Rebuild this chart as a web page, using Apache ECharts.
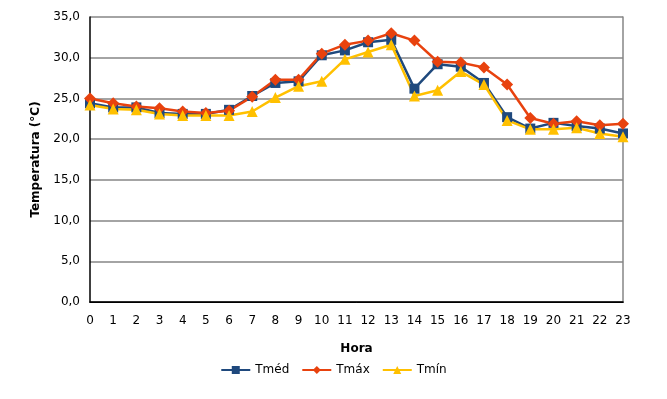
<!DOCTYPE html>
<html>
<head>
<meta charset="utf-8">
<script src="https://cdn.jsdelivr.net/npm/echarts@6/dist/echarts.min.js"></script>
<style>
html, body { margin: 0; padding: 0; background: #fff; }
#main { width: 667px; height: 399px; }
</style>
</head>
<body>
<div id="main"></div>
<script>
var horas = ['0','1','2','3','4','5','6','7','8','9','10','11','12','13','14','15','16','17','18','19','20','21','22','23'];
var tMed = [24.4, 23.9, 23.9, 23.2, 23.1, 23.1, 23.6, 25.3, 26.9, 27.1, 30.3, 30.9, 31.9, 32.2, 26.2, 29.2, 28.9, 26.9, 22.7, 21.3, 22.0, 21.6, 21.3, 20.7];
var tMax = [25.0, 24.4, 24.0, 23.8, 23.4, 23.2, 23.5, 25.2, 27.3, 27.3, 30.5, 31.6, 32.1, 33.0, 32.1, 29.5, 29.4, 28.8, 26.7, 22.6, 21.9, 22.2, 21.7, 21.9];
var tMin = [24.2, 23.7, 23.6, 23.1, 22.9, 22.9, 22.9, 23.4, 25.1, 26.5, 27.1, 29.8, 30.7, 31.6, 25.3, 26.0, 28.3, 26.7, 22.3, 21.2, 21.2, 21.4, 20.7, 20.3];

var myChart = echarts.init(document.getElementById('main'));

var font = 'DejaVu Sans';
var fmt = function (v) { return v.toFixed(1).replace('.', ','); };

var option = {
    backgroundColor: '#fff',
    animation: false,
    textStyle: { fontFamily: font },
    grid: { left: 90, right: 44, top: 17, bottom: 97 },
    legend: {
        top: 359,
        left: 'center',
        itemWidth: 29,
        itemHeight: 10,
        itemGap: 12,
        textStyle: { color: '#000', fontSize: 12, fontFamily: font },
        data: ['Tméd', 'Tmáx', 'Tmín']
    },
    xAxis: [{
        type: 'category',
        data: horas,
        boundaryGap: false,
        name: 'Hora',
        nameLocation: 'middle',
        nameGap: 41,
        nameTextStyle: { fontWeight: 'bold', fontSize: 12, color: '#000', fontFamily: font },
        axisLine: { lineStyle: { color: '#000', width: 1 } },
        axisTick: { show: false },
        axisLabel: { color: '#000', fontSize: 12, margin: 13, fontFamily: font }
    }, {
        type: 'category',
        data: horas,
        boundaryGap: false,
        position: 'top',
        axisLine: { lineStyle: { color: '#000', width: 1.5 } },
        axisTick: { show: false },
        axisLabel: { show: false }
    }],
    yAxis: [{
        type: 'value',
        min: 0,
        max: 35,
        interval: 5,
        name: 'Temperatura (°C)',
        nameLocation: 'middle',
        nameGap: 48,
        nameTextStyle: { fontWeight: 'bold', fontSize: 12, color: '#000', fontFamily: font },
        axisLine: { show: true, lineStyle: { color: '#000', width: 1.5 } },
        axisTick: { show: false },
        axisLabel: { color: '#000', fontSize: 12, margin: 10, formatter: fmt, fontFamily: font },
        splitLine: { lineStyle: { color: '#868686', width: 1.5 } }
    }, {
        type: 'value',
        min: 0,
        max: 35,
        interval: 5,
        position: 'right',
        axisLine: { show: true, lineStyle: { color: '#868686', width: 1.5 } },
        axisTick: { show: false },
        axisLabel: { show: false },
        splitLine: { show: false }
    }],
    series: [{
        name: 'Tméd',
        type: 'line',
        data: tMed,
        symbol: 'rect',
        symbolSize: 10,
        lineStyle: { width: 2.5, color: '#1F497D' },
        itemStyle: { color: '#1F497D' }
    }, {
        name: 'Tmáx',
        type: 'line',
        data: tMax,
        symbol: 'diamond',
        symbolSize: 12,
        lineStyle: { width: 2.5, color: '#E8420E' },
        itemStyle: { color: '#E8420E' }
    }, {
        name: 'Tmín',
        type: 'line',
        data: tMin,
        symbol: 'triangle',
        symbolSize: 11,
        lineStyle: { width: 2.5, color: '#FFC000' },
        itemStyle: { color: '#FFC000' }
    }]
};

myChart.setOption(option);
</script>
</body>
</html>
